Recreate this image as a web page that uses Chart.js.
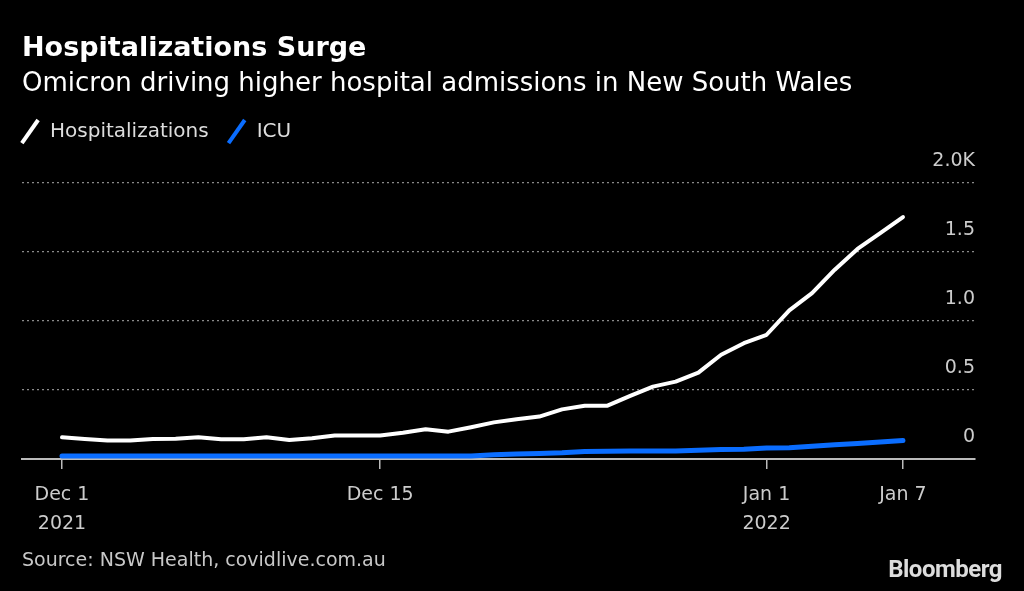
<!DOCTYPE html>
<html>
<head>
<meta charset="utf-8">
<script src="https://cdn.jsdelivr.net/npm/chart.js@4/dist/chart.umd.min.js"></script>
<style>
  html, body { margin: 0; padding: 0; background: #000; }
  #wrap { position: relative; width: 1024px; height: 591px; background: #000; }
  #source { position: absolute; left: 22px; top: 548px; font: 19px "DejaVu Sans", sans-serif; color: #c8c8c8; }
  #logo { position: absolute; right: 22px; top: 555px; font: bold 24px "Liberation Sans Narrow", "Roboto", sans-serif; color: #dddddd; letter-spacing: -0.5px; }
</style>
</head>
<body>
<div id="wrap">
  <canvas id="chart" width="1024" height="591"></canvas>
  <div id="source">Source: NSW Health, covidlive.com.au</div>
  <div id="logo">Bloomberg</div>
</div>
<script>
// Dec 1 2021 .. Jan 7 2022, one value per day
const days = [
  "Dec 1", "Dec 2", "Dec 3", "Dec 4", "Dec 5", "Dec 6", "Dec 7", "Dec 8", "Dec 9", "Dec 10",
  "Dec 11", "Dec 12", "Dec 13", "Dec 14", "Dec 15", "Dec 16", "Dec 17", "Dec 18", "Dec 19", "Dec 20",
  "Dec 21", "Dec 22", "Dec 23", "Dec 24", "Dec 25", "Dec 26", "Dec 27", "Dec 28", "Dec 29", "Dec 30",
  "Dec 31", "Jan 1", "Jan 2", "Jan 3", "Jan 4", "Jan 5", "Jan 6", "Jan 7"
];
const hospitalizations = [
  157, 145, 133, 133, 145, 147, 157, 143, 143, 157,
  138, 150, 170, 170, 170, 190, 215, 198, 230, 265,
  288, 307, 359, 386, 386, 457, 524, 560, 625, 754,
  838, 899, 1075, 1200, 1370, 1520, 1635, 1751
];
const icu = [
  22, 22, 22, 22, 22, 22, 22, 22, 22, 22,
  22, 22, 22, 22, 22, 22, 22, 22, 22, 30,
  36, 40, 45, 55, 56, 57, 58, 58, 63, 69,
  70, 80, 82, 93, 103, 113, 123, 134
];
const xTickDays = ["Dec 1", "Dec 15", "Jan 1", "Jan 7"];
const xTickLabels = [["Dec 1", "2021"], ["Dec 15"], ["Jan 1", "2022"], ["Jan 7"]];
const yTickValues = [0, 500, 1000, 1500, 2000];
const yTickLabels = ["0", "0.5", "1.0", "1.5", "2.0K"];

const toPoints = arr => arr.map((v, i) => ({ x: i, y: v }));
const xTickIdx = xTickDays.map(d => days.indexOf(d));

const lineStyle = (color, width) => ({
  borderColor: color,
  backgroundColor: color,
  borderWidth: width,
  borderJoinStyle: "round",
  borderCapStyle: "round",
  tension: 0,
  fill: false,
  pointRadius: 0,
  pointHoverRadius: 0,
  pointStyle: "line",
  pointRotation: -55,
  pointBorderColor: color,
  pointBackgroundColor: color,
  pointBorderWidth: 4
});

// legend: extra room below the items, and pulled to the left edge
const legendSpacing = {
  id: "legendSpacing",
  beforeInit(chart) {
    const fit = chart.legend.fit;
    chart.legend.fit = function () {
      fit.bind(chart.legend)();
      this.height += 31;
    };
  },
  afterLayout(chart) {
    chart.legend.left -= 20;
    chart.legend.right -= 20;
  }
};

new Chart(document.getElementById("chart"), {
  type: "line",
  data: {
    datasets: [
      Object.assign({ label: "Hospitalizations", data: toPoints(hospitalizations) }, lineStyle("#ffffff", 4)),
      Object.assign({ label: "ICU", data: toPoints(icu) }, lineStyle("#0a6dff", 5))
    ]
  },
  plugins: [legendSpacing],
  options: {
    responsive: false,
    animation: false,
    layout: { padding: { left: 22, right: 49, top: 0, bottom: 41 } },
    plugins: {
      tooltip: { enabled: false },
      title: {
        display: true,
        text: "Hospitalizations Surge",
        align: "start",
        color: "#ffffff",
        font: { family: "DejaVu Sans", size: 27, weight: "bold" },
        padding: { top: 33, bottom: 1 }
      },
      subtitle: {
        display: true,
        text: "Omicron driving higher hospital admissions in New South Wales",
        align: "start",
        color: "#ffffff",
        font: { family: "DejaVu Sans", size: 26 },
        padding: { top: 2, bottom: 4 }
      },
      legend: {
        display: true,
        align: "start",
        labels: {
          color: "#dddddd",
          font: { family: "DejaVu Sans", size: 20 },
          usePointStyle: true,
          boxHeight: 20,
          padding: 18
        }
      }
    },
    scales: {
      x: {
        type: "linear",
        min: -1.76,
        max: 40.17,
        afterBuildTicks: axis => { axis.ticks = xTickIdx.map(v => ({ value: v })); },
        ticks: {
          color: "#cccccc",
          font: { family: "DejaVu Sans", size: 19, lineHeight: 1.5 },
          padding: 12,
          maxRotation: 0,
          autoSkip: false,
          callback: (v) => xTickLabels[xTickIdx.indexOf(v)]
        },
        grid: { drawOnChartArea: false, drawTicks: true, tickLength: 10, color: "#bbbbbb", lineWidth: 1.5 },
        border: { display: true, color: "#bbbbbb", width: 2 }
      },
      y: {
        position: "right",
        min: 0,
        max: 2000,
        afterBuildTicks: axis => { axis.ticks = yTickValues.map(v => ({ value: v })); },
        ticks: {
          mirror: true,
          padding: 0,
          labelOffset: -22,
          color: "#cccccc",
          font: { family: "DejaVu Sans", size: 19 },
          callback: (v) => yTickLabels[yTickValues.indexOf(v)]
        },
        grid: {
          drawTicks: false,
          color: ctx => ctx.tick && ctx.tick.value === 0 ? "rgba(0,0,0,0)" : "#8a8a8a",
          lineWidth: 1.2
        },
        border: { display: false, dash: [2, 3] }
      }
    }
  }
});
</script>
</body>
</html>
